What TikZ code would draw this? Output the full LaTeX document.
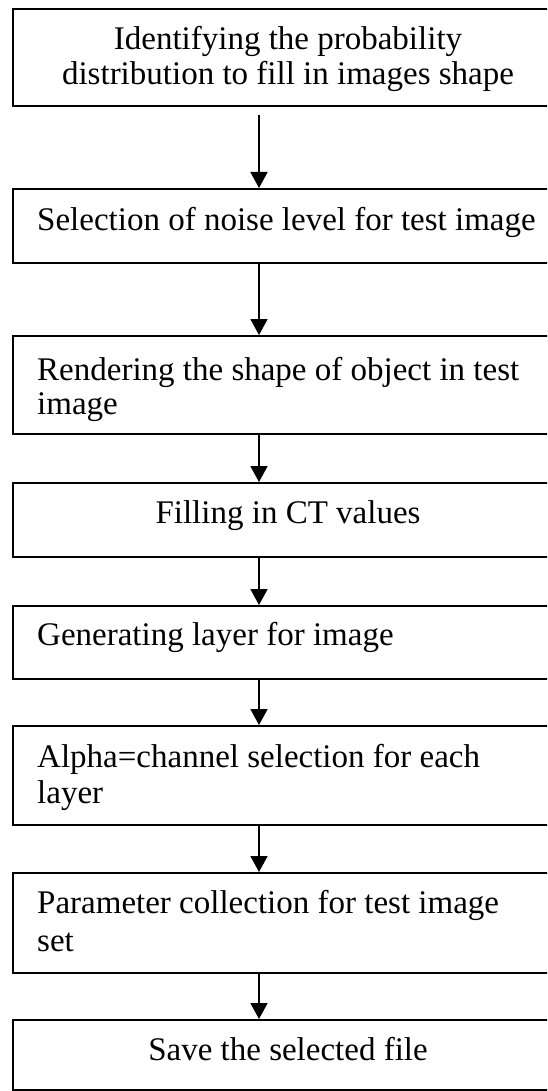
\documentclass[tikz,border=0pt]{standalone}
\usepackage{fontspec}
\setmainfont{Liberation Serif}
\usetikzlibrary{arrows.meta}

\begin{document}
\begin{tikzpicture}[x=1pt,y=-1pt,
  stepbox/.style={draw=black, line width=2pt, rectangle, inner sep=0pt,
    minimum width=553pt, anchor=north west},
  txt/.style={inner sep=0pt, font=\fontsize{33}{36}\selectfont},
  lefttxt/.style={txt, anchor=base west},
  midtxt/.style={txt, anchor=base},
  flow/.style={line width=1.8pt, -{Triangle[length=16pt,width=17pt]}}]

\useasboundingbox (0,0) rectangle (547,1091);
\clip (0,0) rectangle (547,1091);

% process boxes (right edges run past the page)
\node[stepbox, minimum height=97pt]  (b1) at (12,8)    {};
\node[stepbox, minimum height=74pt]  (b2) at (12,188)  {};
\node[stepbox, minimum height=98pt]  (b3) at (12,335)  {};
\node[stepbox, minimum height=74pt]  (b4) at (12,482)  {};
\node[stepbox, minimum height=73pt]  (b5) at (12,605)  {};
\node[stepbox, minimum height=99pt]  (b6) at (12,725)  {};
\node[stepbox, minimum height=100pt] (b7) at (12,872)  {};
\node[stepbox, minimum height=70pt]  (b8) at (12,1019) {};

% box texts
\node[midtxt]  (t1a) at (288,50)   {Identifying the probability};
\node[midtxt]  (t1b) at (288,85)   {distribution to fill in images shape};
\node[lefttxt] (t2)  at (37,230)   {Selection of noise level for test image};
\node[lefttxt] (t3a) at (37,380)   {Rendering the shape of object in test};
\node[lefttxt] (t3b) at (37,414)   {image};
\node[midtxt]  (t4)  at (288,523)  {Filling in CT values};
\node[lefttxt] (t5)  at (37,645)   {Generating layer for image};
\node[lefttxt] (t6a) at (37,767)   {Alpha=channel selection for each};
\node[lefttxt] (t6b) at (37,803)   {layer};
\node[lefttxt] (t7a) at (37,913)   {Parameter collection for test image};
\node[lefttxt] (t7b) at (37,951)   {set};
\node[midtxt]  (t8)  at (288,1060) {Save the selected file};

% connectors
\coordinate (ax) at (259,0);
\draw[flow, shorten <=8pt] (b1.south -| ax) -- (b2.north -| ax);
\draw[flow] (b2.south -| ax) -- (b3.north -| ax);
\draw[flow] (b3.south -| ax) -- (b4.north -| ax);
\draw[flow] (b4.south -| ax) -- (b5.north -| ax);
\draw[flow] (b5.south -| ax) -- (b6.north -| ax);
\draw[flow] (b6.south -| ax) -- (b7.north -| ax);
\draw[flow] (b7.south -| ax) -- (b8.north -| ax);
\end{tikzpicture}
\end{document}
